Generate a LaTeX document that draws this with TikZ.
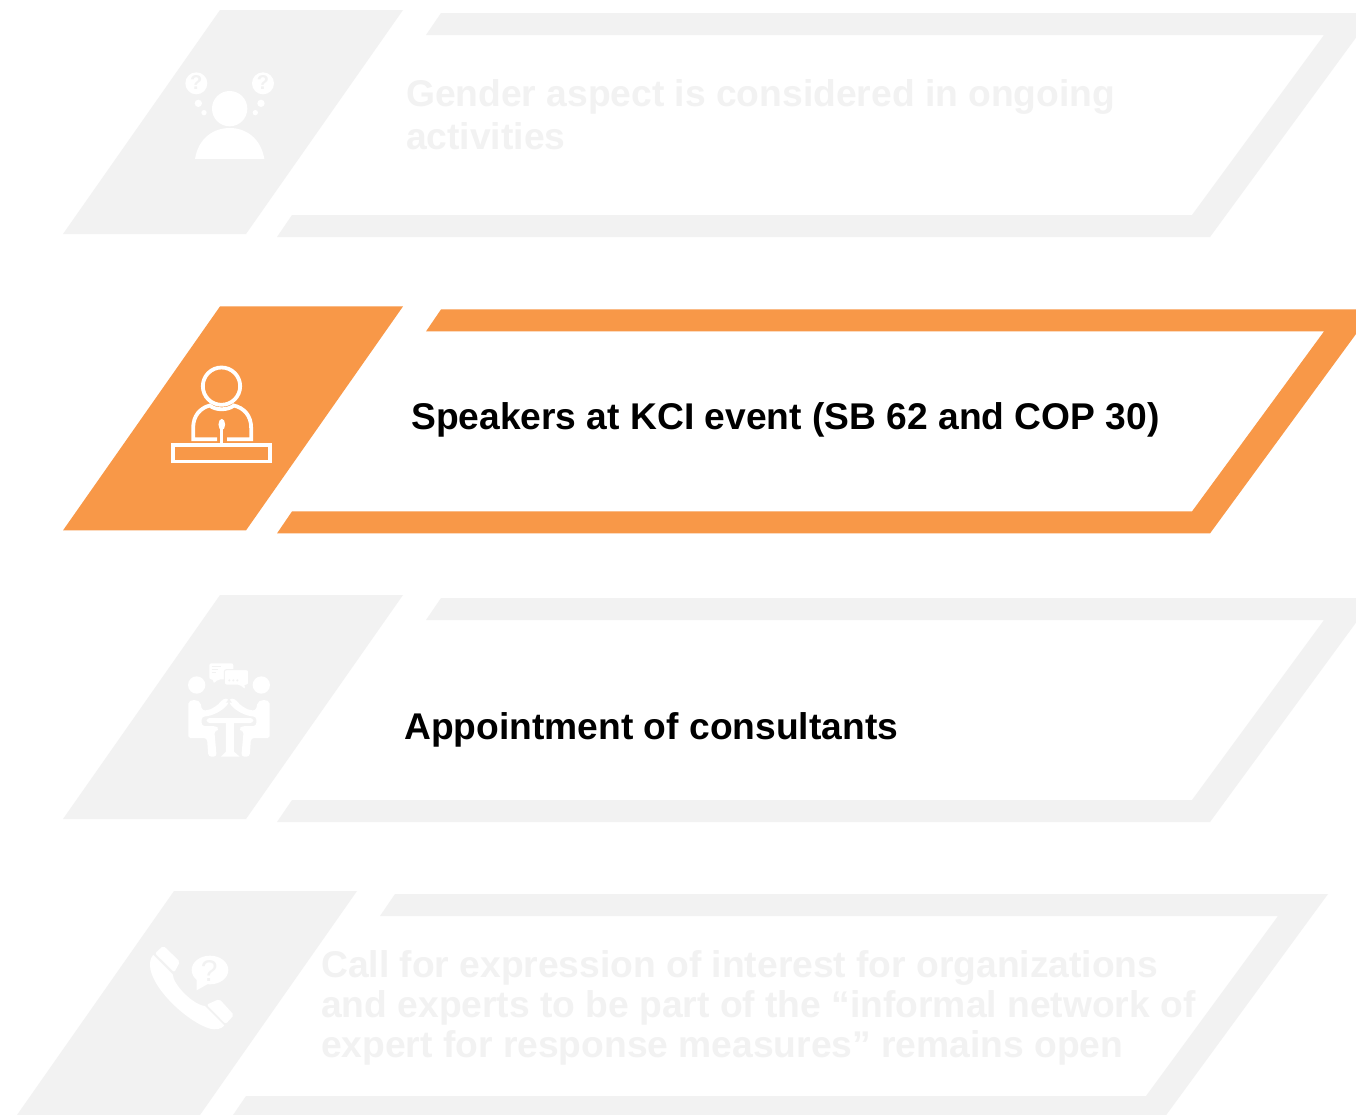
\documentclass[tikz,border=0pt]{standalone}
\usepackage{fontspec}
\setmainfont{Liberation Sans}
\definecolor{ghost}{HTML}{F2F2F2}
\definecolor{accent}{HTML}{F89848}
\tikzset{
  rowtext/.style={anchor=base west,inner sep=0pt,font=\fontsize{37.2}{43}\selectfont\bfseries,align=left},
  ghosttxt/.style={rowtext,text=ghost},
  activetxt/.style={rowtext,text=black}
}
% #1 dx, #2 dy, #3 colour
\newcommand{\rowshapes}[3]{%
  \begin{scope}[shift={(#1,#2)}]
    \fill[#3] (220,10) -- (403,10) -- (246,234) -- (63,234) -- cycle;
    \fill[#3] (441,13) -- (1374,13) -- (1210,237) -- (277,237) -- (292,215) -- (1192,215) -- (1324,35) -- (426,35) -- cycle;
  \end{scope}}
\newcommand{\halfmeeting}{%
  \fill[white,rounded corners=3pt] (70,250) -- (70,170) .. controls (70,146) and (105,146) .. (109,172) -- (112,182) .. controls (140,180) and (160,165) .. (174,146) -- (192,146) -- (192,158) .. controls (170,185) and (140,198) .. (110,200) -- (110,228) -- (150,228) .. controls (158,232) and (158,240) .. (150,242) -- (148,242) -- (155,320) -- (130,320) -- (126,264) -- (85,264) .. controls (75,264) and (70,258) .. (70,250) -- cycle;
  \fill[white] (95,105) circle (26);}
\begin{document}
\begin{tikzpicture}[x=1pt,y=-1pt]
\useasboundingbox (0,0) rectangle (1356,1114);
\clip (0,0) rectangle (1356,1114);
\fill[white] (0,0) rectangle (1356,1114);
\rowshapes{0}{0}{ghost}
\rowshapes{0}{296.4}{accent}
\rowshapes{0}{585}{ghost}
\rowshapes{-46}{881}{ghost}

% row 1 icon
\begin{scope}[shift={(150,50)},x=0.3333pt,y=-0.3333pt]
  \fill[white] (239,176) circle (53);
  \fill[white] (135,327) .. controls (145,265) and (190,234) .. (239,234) .. controls (288,234) and (333,265) .. (343,327) -- cycle;
  \fill[white] (139,100) circle (33);
  \fill[white] (339,100) circle (33);
  \fill[white] (145,160) circle (11);
  \fill[white] (162,188) circle (8);
  \fill[white] (333,160) circle (11);
  \fill[white] (316,188) circle (8);
  \foreach \cx/\nm in {139/qa,339/qb}{
    \node (\nm) at (\cx,99) [inner sep=0pt,text=ghost,font=\fontsize{20}{20}\selectfont\bfseries] {?};
  }
\end{scope}

% row 2 icon
\begin{scope}[shift={(150.5,350.5)},x=0.3333pt,y=-0.3333pt,draw=white,line width=3.8pt]
  \draw (213,107) circle (56);
  \draw (200,266) -- (128,266) -- (128,232) .. controls (128,195) and (150,172) .. (178,165) .. controls (195,180) and (232,180) .. (250,165) .. controls (280,172) and (302,195) .. (302,232) -- (302,266) -- (230,266);
  \fill[white] (214,222) ellipse (10 and 17);
  \draw[line width=2.8pt] (214,235) -- (214,282);
  \draw (68,283) rectangle (358,333);
\end{scope}

% row 3 icon
\begin{scope}[shift={(165,650)},x=0.3333pt,y=-0.3333pt]
  \halfmeeting
  \begin{scope}[shift={(384,0)},xscale=-1]
    \halfmeeting
  \end{scope}
  \fill[ghost] (192,146) -- (183,158) -- (201,158) -- cycle;
  \fill[white,rounded corners=3pt] (125,204) rectangle (265,219);
  \fill[white] (183,219) -- (207,219) -- (207,305) -- (224,320) -- (168,320) -- (183,305) -- cycle;
  \fill[white,rounded corners=2pt] (133,40) -- (205,40) -- (205,88) -- (160,88) -- (145,101) -- (145,88) -- (133,88) -- cycle;
  \foreach \a/\b in {50/168,59/160,68/153}{\draw[ghost,line width=0.8pt] (140,\a) -- (\b,\a);}
  \fill[white,draw=ghost,line width=1pt,rounded corners=2pt] (178,59) -- (251,59) -- (251,105) -- (241,105) -- (241,120) -- (222,105) -- (178,105) -- cycle;
  \foreach \a in {193,205,217}{\fill[ghost] (\a,91) circle (3.5);}
\end{scope}

% row 4 icon
\begin{scope}[shift={(130,930)},x=0.3333pt,y=-0.3333pt]
  \fill[white,rounded corners=2pt] (75,70) -- (100,47) -- (150,95) -- (133,127) -- cycle;
  \fill[white,rounded corners=2pt] (230,224) -- (268,207) -- (312,255) -- (287,282) -- cycle;
  \fill[white] (70,75) -- (128,133) .. controls (130,165) and (190,225) .. (225,228) -- (283,286) .. controls (275,298) and (255,300) .. (240,296) .. controls (170,275) and (60,170) .. (60,105) .. controls (60,90) and (64,80) .. (70,75) -- cycle;
  \fill[white] (240,120) ellipse (55 and 43);
  \fill[white] (200,145) -- (200,181) -- (240,158) -- cycle;
  \node (qc) at (238,124) [inner sep=0pt,text=ghost,font=\fontsize{30}{30}\selectfont] {?};
\end{scope}

% texts
\node[ghosttxt] (t1a) at (406,106) {Gender aspect is considered in ongoing};
\node[ghosttxt] (t1b) at (406,149) {activities};
\node[activetxt] (t2) at (411,429) {Speakers at KCI event (SB 62 and COP 30)};
\node[activetxt] (t3) at (404,739) {Appointment of consultants};
\node[ghosttxt] (t4a) at (321,977) {Call for expression of interest for organizations};
\node[ghosttxt] (t4b) at (321,1017) {and experts to be part of the “informal network of};
\node[ghosttxt] (t4c) at (321,1057) {expert for response measures” remains open};
\end{tikzpicture}
\end{document}
